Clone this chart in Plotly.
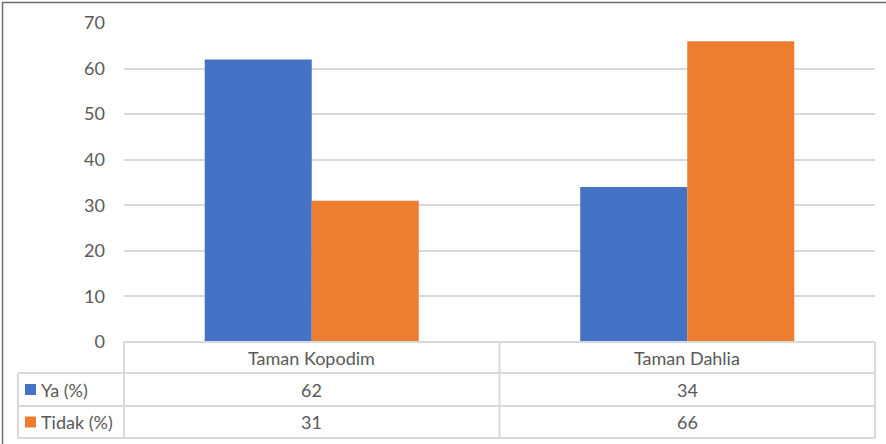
import plotly.graph_objects as go

categories = ["Taman Kopodim", "Taman Dahlia"]
series_names = ["Ya (%)", "Tidak (%)"]
ya_values = [62, 34]
tidak_values = [31, 66]
colors = ["#4472C4", "#ED7D31"]
y_ticks = [0, 10, 20, 30, 40, 50, 60, 70]

W, H = 886, 444
px_l, px_r = 124, 875
py_top, py_bot = 23, 342

def fx(p):
    return p / W

def fy(p):
    return 1 - p / H

FONT = "Lato, Carlito, 'Liberation Sans', sans-serif"
FS = 18
TXT = "#595959"
GRID = "#D9D9D9"

fig = go.Figure()
for name, vals, col in zip(series_names, [ya_values, tidak_values], colors):
    fig.add_trace(go.Bar(x=categories, y=vals, name=name, marker=dict(color=col, line=dict(width=0)),
                         showlegend=False))

fig.update_layout(
    width=W, height=H,
    margin=dict(l=0, r=0, t=0, b=0, pad=0, autoexpand=False),
    paper_bgcolor="white", plot_bgcolor="white",
    barmode="group", bargap=0.43, bargroupgap=0,
    font=dict(family=FONT, size=FS, color=TXT),
    xaxis=dict(domain=[fx(px_l), fx(px_r)], showticklabels=False, showgrid=False,
               zeroline=False, showline=False, ticks="", automargin=False),
    yaxis=dict(domain=[fy(py_bot), fy(py_top)], range=[0, 70], tickvals=y_ticks,
               showgrid=True, gridcolor=GRID, gridwidth=1.5, zeroline=False, showline=False,
               ticks="", tickfont=dict(size=FS, color=TXT), ticklabelstandoff=18, automargin=False),
)

shapes = []
shapes.append(dict(type="rect", xref="paper", yref="paper", x0=fx(2.5), x1=fx(890), y0=fy(448), y1=fy(2.5),
                   line=dict(color="#6E6E6E", width=1.5), fillcolor="rgba(0,0,0,0)", layer="below"))

tbl_left = 18
col_x = [px_l, (px_l + px_r) / 2, px_r]
row_y = [342, 373, 406, 438]
tl = dict(color=GRID, width=2)
shapes.append(dict(type="line", xref="paper", yref="paper", x0=fx(px_l), x1=fx(px_r), y0=fy(row_y[0]), y1=fy(row_y[0]), line=tl))
for ry in row_y[1:]:
    shapes.append(dict(type="line", xref="paper", yref="paper", x0=fx(tbl_left), x1=fx(px_r), y0=fy(ry), y1=fy(ry), line=tl))
shapes.append(dict(type="line", xref="paper", yref="paper", x0=fx(tbl_left), x1=fx(tbl_left), y0=fy(row_y[1]), y1=fy(row_y[3]), line=tl))
for cx in col_x:
    shapes.append(dict(type="line", xref="paper", yref="paper", x0=fx(cx), x1=fx(cx), y0=fy(row_y[0]), y1=fy(row_y[3]), line=tl))

annotations = []
for i, cat in enumerate(categories):
    cx = (col_x[i] + col_x[i + 1]) / 2
    annotations.append(dict(x=fx(cx), y=fy((row_y[0] + row_y[1]) / 2), xref="paper", yref="paper",
                            xanchor="center", yanchor="middle",
                            text=cat, showarrow=False, font=dict(size=FS, color=TXT)))
    for r, vals in enumerate([ya_values, tidak_values]):
        annotations.append(dict(x=fx(cx), y=fy((row_y[r + 1] + row_y[r + 2]) / 2), xref="paper", yref="paper",
                                xanchor="center", yanchor="middle",
                                text=str(vals[i]), showarrow=False, font=dict(size=FS, color=TXT)))

for r, (name, col) in enumerate(zip(series_names, colors)):
    cy = (row_y[r + 1] + row_y[r + 2]) / 2
    shapes.append(dict(type="rect", xref="paper", yref="paper", x0=fx(25), x1=fx(36), y0=fy(cy + 5.5), y1=fy(cy - 5.5),
                       fillcolor=col, line=dict(width=0)))
    annotations.append(dict(x=fx(39), y=fy(cy), xref="paper", yref="paper", xanchor="left", yanchor="middle",
                            text=name, showarrow=False, font=dict(size=FS, color=TXT)))

fig.update_layout(shapes=shapes, annotations=annotations)
fig.write_html("out.html", config={"displayModeBar": False},
               post_script="document.body.style.margin='0';document.body.style.overflow='hidden';")
